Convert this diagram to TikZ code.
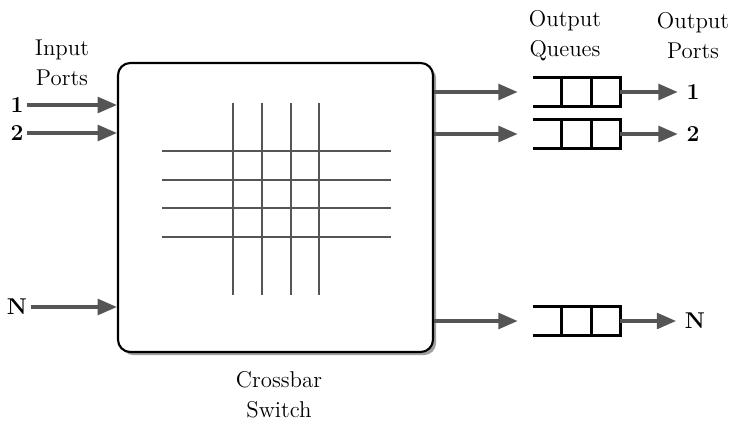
\documentclass[tikz,border=0pt]{standalone}
\usepackage{tikz}
\usetikzlibrary{calc, positioning, arrows.meta, shadows}
\definecolor{wire}{HTML}{555555}
\tikzset{
  link/.style={wire, line width=1.9pt, -{Triangle[length=11pt, width=9pt]}},
  bar/.style={wire, line width=1.7pt},
  lbl/.style={font=\fontsize{13}{17}\selectfont, align=center},
  port/.style={font=\fontsize{13}{15}\selectfont\bfseries, inner sep=2pt},
  queue/.style={minimum width=1.74cm, minimum height=0.58cm, inner sep=0pt},
  slot/.style={draw=black, line width=1.6pt},
}

\begin{document}
\begin{tikzpicture}
\useasboundingbox (0, 0) rectangle (14.58, -8.4);

% Switch body
\node[draw, line width=1.2pt, rounded corners=7pt, fill=white,
      minimum width=6.3cm, minimum height=5.78cm,
      drop shadow={shadow xshift=1.8pt, shadow yshift=-1.8pt, opacity=0.75}]
      (switch) at (5.51, -4.15) {};

% Crossbar grid
\foreach \x in {4.66, 5.24, 5.82, 6.38}
  \draw[bar] (\x, -2.06) -- (\x, -5.9);
\foreach \y in {-3.02, -3.6, -4.16, -4.74}
  \draw[bar] (3.24, \y) -- (7.82, \y);

% Input side
\node[lbl] (inlbl) at (1.24, -1.26) {Input\\Ports};
\node[port] (in1) at (0.34, -2.1) {1};
\node[port] (in2) at (0.34, -2.66) {2};
\node[port] (inN) at (0.34, -6.14) {N};
\draw[link] (in1) -- (in1 -| switch.west);
\draw[link] (in2) -- (in2 -| switch.west);
\draw[link] (inN) -- (inN -| switch.west);

% Output queues
\node[queue] (q1) at (11.53, -1.84) {};
\node[queue] (q2) at (11.53, -2.68) {};
\node[queue] (qN) at (11.53, -6.42) {};
\foreach \q in {q1, q2, qN} {
  \draw[slot] (\q.north west) -- (\q.north east) -- (\q.south east) -- (\q.south west);
  \draw[slot] ($(\q.north west)!1/3!(\q.north east)$) -- ($(\q.south west)!1/3!(\q.south east)$);
  \draw[slot] ($(\q.north west)!2/3!(\q.north east)$) -- ($(\q.south west)!2/3!(\q.south east)$);
}
\draw[link, shorten >=0.3cm] (q1 -| switch.east) -- (q1.west);
\draw[link, shorten >=0.3cm] (q2 -| switch.east) -- (q2.west);
\draw[link, shorten >=0.3cm] (qN -| switch.east) -- (qN.west);

% Output ports
\node[lbl] (qlbl) at (11.3, -0.72) {Output\\Queues};
\node[lbl] (outlbl) at (13.86, -0.72) {Output\\Ports};
\node[port] (out1) at (13.86, -1.84) {1};
\node[port] (out2) at (13.86, -2.68) {2};
\node[port] (outN) at (13.9, -6.42) {N};
\draw[link, shorten >=0.1cm] (q1.east) -- (out1.west);
\draw[link, shorten >=0.1cm] (q2.east) -- (out2.west);
\draw[link, shorten >=0.1cm] (qN.east) -- (outN.west);

\node[lbl] (swlbl) at (5.58, -7.9) {Crossbar\\Switch};
\end{tikzpicture}
\end{document}
